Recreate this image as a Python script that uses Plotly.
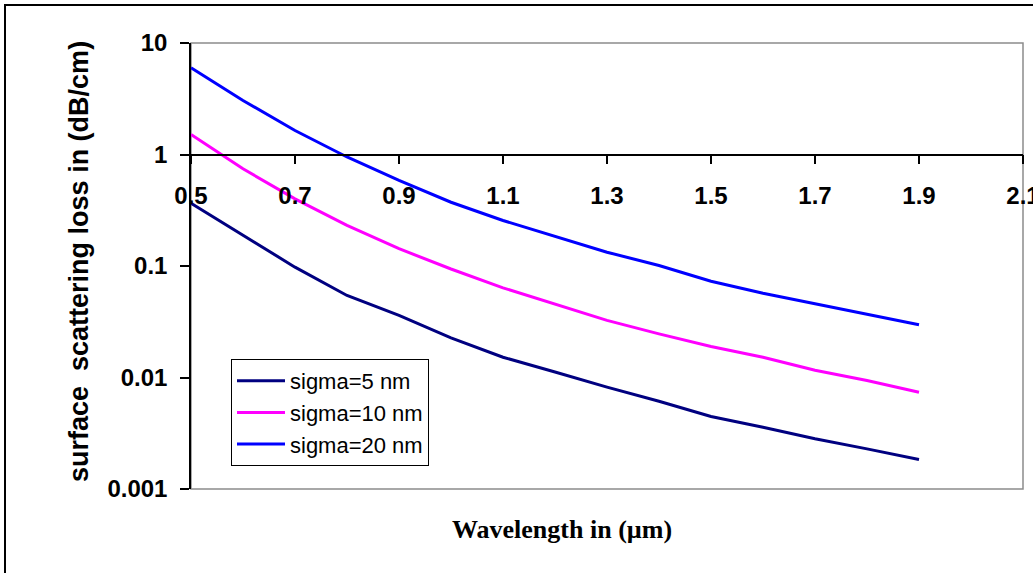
import plotly.graph_objects as go

# ---- data ----
wavelength = [0.5, 0.6, 0.7, 0.8, 0.9, 1.0, 1.1, 1.2, 1.3, 1.4, 1.5, 1.6, 1.7, 1.8, 1.9]
sigma5 = [0.366, 0.188, 0.0976, 0.0544, 0.036, 0.0227, 0.0152, 0.0112, 0.00819,
          0.00613, 0.00447, 0.00358, 0.00282, 0.00229, 0.00184]
sigma10 = [1.51, 0.744, 0.40, 0.231, 0.143, 0.094, 0.0637, 0.0458, 0.0325,
           0.0246, 0.019, 0.0152, 0.0116, 0.0094, 0.00738]
sigma20 = [6.0, 3.05, 1.64, 0.95, 0.585, 0.373, 0.256, 0.184, 0.133,
           0.101, 0.073, 0.057, 0.0458, 0.0373, 0.0297]

series_names = ["sigma=5 nm", "sigma=10 nm", "sigma=20 nm"]
series_colors = ["#000080", "#FF00FF", "#0000FF"]

x_ticks = [0.5, 0.7, 0.9, 1.1, 1.3, 1.5, 1.7, 1.9, 2.1]
x_ticktext = ["0.5", "0.7", "0.9", "1.1", "1.3", "1.5", "1.7", "1.9", "2.1"]
y_ticks = [0.001, 0.01, 0.1, 1, 10]
y_ticktext = ["0.001", "0.01", "0.1", "1", "10"]

SANS = "Liberation Sans, Arial, sans-serif"
SERIF = "Liberation Serif, Times New Roman, serif"

fig = go.Figure()
for i, (name, vals, col) in enumerate(zip(series_names, [sigma5, sigma10, sigma20], series_colors)):
    fig.add_trace(go.Scatter(
        x=wavelength, y=vals, mode="lines", name=name,
        line=dict(color=col, width=3),
        legendgroup=f"g{i}",
    ))

W, H = 1033, 573
L, R, T, B = 191, 10, 43, 84
pw = W - L - R
ph = H - T - B

fig.update_layout(
    width=W, height=H,
    margin=dict(l=L, r=R, t=T, b=B, pad=0, autoexpand=False),
    paper_bgcolor="white", plot_bgcolor="white",
    showlegend=True,
    legend=dict(
        x=(231 - L) / pw, y=(T + ph - 359) / ph,
        xanchor="left", yanchor="top",
        bgcolor="white", bordercolor="black", borderwidth=1,
        font=dict(family=SANS, size=22, color="black"),
        tracegroupgap=10,
        traceorder="normal",
        itemwidth=48,
    ),
    xaxis=dict(
        range=[0.5, 2.1],
        tickvals=x_ticks, ticktext=x_ticktext,
        tickfont=dict(family=SANS, size=24, color="black", weight="bold"),
        ticks="outside", ticklen=9, tickwidth=1.5, tickcolor="black",
        showline=True, linecolor="black", linewidth=1.5,
        showgrid=False, zeroline=False,
        anchor="free", position=0.75, side="bottom",
        ticklabelstandoff=11,
        ticklabeloverflow="allow",
        automargin=False,
    ),
    yaxis=dict(
        type="log", range=[-3, 1],
        tickvals=y_ticks, ticktext=y_ticktext,
        tickfont=dict(family=SANS, size=24, color="black", weight="bold"),
        ticks="outside", ticklen=9, tickwidth=1.5, tickcolor="black",
        showline=True, linecolor="black", linewidth=1.5,
        showgrid=False, zeroline=False,
        ticklabelstandoff=8,
        automargin=False,
    ),
    shapes=[
        # plot-area frame (gray)
        dict(type="rect", xref="paper", yref="paper", x0=0, x1=1, y0=0, y1=1,
             line=dict(color="#8c8c8c", width=1.5), layer="below"),
        # outer chart border
        dict(type="rect", xref="paper", yref="paper",
             x0=(5 - L) / pw, x1=(W + 10 - L) / pw,
             y0=(T + ph - (H + 10)) / ph, y1=(T + ph - 5) / ph,
             line=dict(color="black", width=2), layer="below"),
    ],
    annotations=[
        dict(text="Wavelength in (µm)", xref="paper", yref="paper",
             x=(561.5 - L) / pw, y=(T + ph - 529) / ph,
             xanchor="center", yanchor="middle", showarrow=False,
             font=dict(family=SERIF, size=26, color="black", weight="bold")),
        dict(text="surface  scattering loss in (dB/cm)", xref="paper", yref="paper",
             x=(79 - L) / pw, y=(T + ph - 262) / ph, textangle=-90,
             xanchor="center", yanchor="middle", showarrow=False,
             font=dict(family=SANS, size=27, color="black", weight="bold")),
    ],
)

fig.write_html("out.html")
